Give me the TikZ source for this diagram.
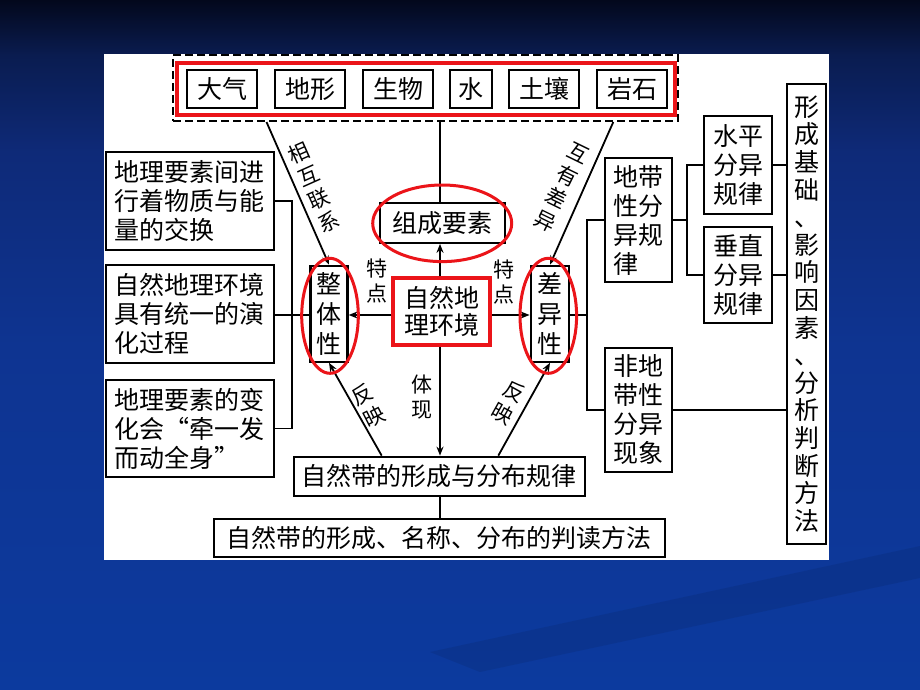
\documentclass[tikz,border=0pt]{standalone}
\usepackage{fontspec}
\setmainfont{Noto Sans CJK SC}
\usetikzlibrary{arrows.meta,shapes.geometric}
\definecolor{bgA}{RGB}{3,8,28}
\definecolor{bgB}{RGB}{10,28,80}
\definecolor{bgC}{RGB}{14,42,120}
\definecolor{bgD}{RGB}{14,52,145}
\definecolor{bgE}{RGB}{12,58,158}
\definecolor{myred}{RGB}{235,20,25}
\pgfdeclareverticalshading{bgshade}{100bp}{color(0bp)=(bgE); color(25bp)=(bgE); color(50bp)=(bgD); color(64bp)=(bgC); color(71bp)=(bgB); color(75bp)=(bgA); color(100bp)=(bgA)}
\begin{document}
\begin{tikzpicture}[x=1pt,y=-1pt,
  box/.style={draw=black, line width=2.2pt, fill=white, inner sep=0pt, align=center, font=\fontsize{25}{29}\selectfont},
  lbox/.style={box, align=left, minimum width=168pt, text width=152pt},
  vbox/.style={box, font=\fontsize{25}{30}\selectfont},
  lbl/.style={inner sep=0pt, align=center, font=\fontsize{21}{25}\selectfont},
  conn/.style={line width=1.8pt},
  arr/.style={conn, -{Stealth[length=9pt,width=7pt]}},
  redring/.style={draw=myred, line width=3pt, ellipse, inner sep=0pt}
]
\useasboundingbox (0,0) rectangle (920,690);
\shade[shading=bgshade] (0,0) rectangle (920,690);
\fill[black, opacity=0.08] (430,652) -- (920,546) -- (920,578) -- (480,672) -- cycle;
\fill[white] (104,54) rectangle (829,560);

% top group
\node[draw=black, line width=2pt, dash pattern=on 8pt off 4pt, minimum width=505pt, minimum height=66pt, inner sep=0pt] (dash) at (425.5,88) {};
\node[draw=myred, line width=3.3pt, minimum width=498pt, minimum height=52pt, inner sep=0pt] (redbar) at (426,89) {};
\node[box, minimum width=70pt, minimum height=38pt] (daqi) at (222,89) {大气};
\node[box, minimum width=70pt, minimum height=38pt] (dixing) at (310,89) {地形};
\node[box, minimum width=70pt, minimum height=38pt] (shengwu) at (398,89) {生物};
\node[box, minimum width=42pt, minimum height=38pt] (shui) at (471,89) {水};
\node[box, minimum width=70pt, minimum height=38pt] (turang) at (544,89) {土壤};
\node[box, minimum width=70pt, minimum height=38pt] (yanshi) at (632,89) {岩石};

% left boxes
\node[lbox, minimum height=98pt] (l1) at (190,201) {地理要素间进\\行着物质与能\\量的交换};
\node[lbox, minimum height=98pt] (l2) at (190,314) {自然地理环境\\具有统一的演\\化过程};
\node[lbox, minimum height=97pt] (l3) at (190,428.5) {地理要素的变\\化会“牵一发\\而动全身”};

% center
\node[box, minimum width=125pt, minimum height=39.5pt] (zucheng) at (442.5,223) {组成要素};
\node[box, draw=myred, line width=3.5pt, minimum width=97pt, minimum height=67pt, font=\fontsize{25}{27}\selectfont] (ziran) at (441.7,311.7) {自然地\\理环境};
\node[vbox, minimum width=37pt, minimum height=96pt] (zheng) at (329,313.7) {整\\体\\性};
\node[vbox, minimum width=38.6pt, minimum height=96pt] (cha) at (550,313.7) {差\\异\\性};

% bottom
\node[box, minimum width=291pt, minimum height=39.3pt] (dai) at (439.4,476.4) {自然带的形成与分布规律};
\node[box, minimum width=451pt, minimum height=38pt] (pan) at (439.3,538.3) {自然带的形成、名称、分布的判读方法};

% right
\node[box, align=left, minimum width=67pt, minimum height=124pt] (didai) at (638.5,220) {地带\\性分\\异规\\律};
\node[box, align=left, minimum width=67pt, minimum height=124pt] (fei) at (638.5,410) {非地\\带性\\分异\\现象};
\node[box, minimum width=68pt, minimum height=98pt] (shuiping) at (738,165) {水平\\分异\\规律};
\node[box, minimum width=68pt, minimum height=96pt] (chuizhi) at (738,275) {垂直\\分异\\规律};
\node[box, minimum width=39pt, minimum height=460pt, font=\fontsize{25}{27.6}\selectfont] (big) at (806.5,314) {形\\成\\基\\础\\、\\影\\响\\因\\素\\、\\分\\析\\判\\断\\方\\法};

% helper coordinates
\coordinate (spine) at (440,0);
\coordinate (hrow) at (0,315);
\coordinate (lbus) at (292.3,0);
\coordinate (rbus) at (586.7,0);
\coordinate (rbus2) at (687.3,0);
\coordinate (tlx) at (266.5,0);
\coordinate (trx) at (613.3,0);
\coordinate (blx) at (381.7,0);
\coordinate (brx) at (498.3,0);

% connectors
\draw[conn] (dash.south -| spine) -- (zucheng.north -| spine);
\draw[arr] (ziran.north -| spine) -- (zucheng.south -| spine);
\draw[arr] (ziran.south -| spine) -- (dai.north -| spine);
\draw[conn] (dai.south -| spine) -- (pan.north -| spine);
\draw[arr] (ziran.west |- hrow) -- (zheng.east |- hrow);
\draw[arr] (ziran.east |- hrow) -- (cha.west |- hrow);
\draw[conn] (l1.east) -- (l1.east -| lbus) -- (l3.east -| lbus) -- (l3.east);
\draw[conn] (l2.east |- hrow) -- (zheng.west |- hrow);
\draw[conn] (cha.east |- hrow) -- (rbus |- hrow);
\draw[conn] (didai.west) -- (didai.west -| rbus) -- (fei.west -| rbus) -- (fei.west);
\draw[conn] (didai.east) -- (didai.east -| rbus2);
\draw[conn] (shuiping.west) -- (shuiping.west -| rbus2) -- (chuizhi.west -| rbus2) -- (chuizhi.west);
\draw[conn] (shuiping.east) -- (shuiping.east -| big.west);
\draw[conn] (chuizhi.east) -- (chuizhi.east -| big.west);
\draw[conn] (fei.east) -- (fei.east -| big.west);
\draw[arr] (dash.south -| tlx) -- (zheng.north);
\draw[arr] (dash.south -| trx) -- (cha.north);
\draw[arr] (dai.north -| blx) -- (zheng.south);
\draw[arr] (dai.north -| brx) -- (cha.south);

% red rings
\node[redring, minimum width=56.6pt, minimum height=115pt] (zhengring) at (330,315.8) {};
\node[redring, minimum width=56.6pt, minimum height=115pt] (charing) at (548.3,315.8) {};
\node[redring, minimum width=139pt, minimum height=76.6pt] (zuring) at (442.2,223.3) {};

% labels
\node[lbl, rotate=24] (xhlx) at (314,187.5) {相\\互\\联\\系};
\node[lbl, rotate=-26] (hycy) at (561.7,187.5) {互\\有\\差\\异};
\node[lbl, rotate=27] (fyl) at (368.3,405.8) {反\\映};
\node[lbl, rotate=-29] (fyr) at (508.3,402.5) {反\\映};
\node[lbl] (tixian) at (421.7,396.7) {体\\现};
\node[lbl] (tdl) at (377.3,281) {特\\点};
\node[lbl] (tdr) at (504,281.5) {特\\点};
\end{tikzpicture}
\end{document}
